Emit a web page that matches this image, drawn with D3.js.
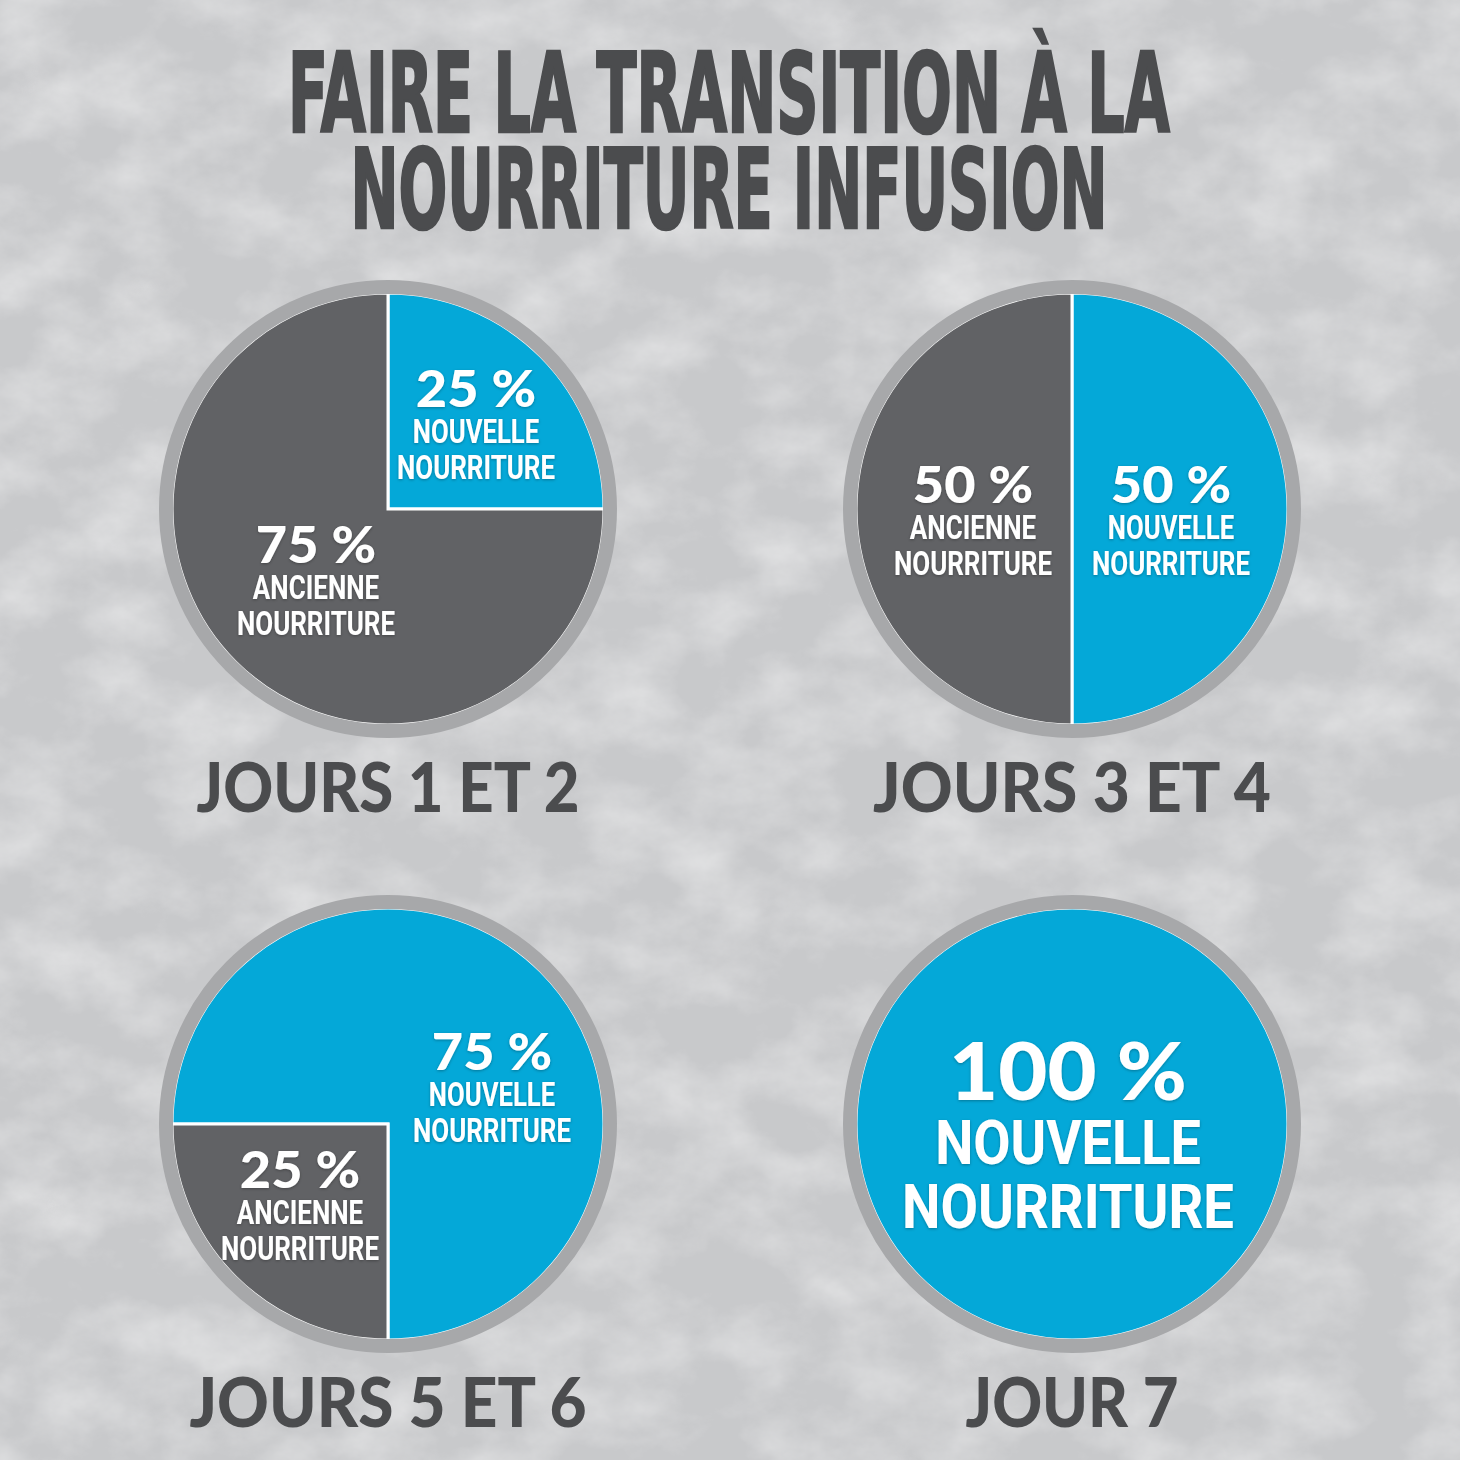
<!DOCTYPE html>
<html>
<head>
<meta charset="utf-8">
<script src="https://cdn.jsdelivr.net/npm/d3@7"></script>
<style>
  html, body { margin: 0; padding: 0; background: #c8c9cb; }
  #main svg { display: block; }
</style>
</head>
<body>
<div id="main"></div>
<script>
// ---- data ----
const titleLines = ["FAIRE LA TRANSITION À LA", "NOURRITURE INFUSION"];
const stages = ["JOURS 1 ET 2", "JOURS 3 ET 4", "JOURS 5 ET 6", "JOUR 7"];
const newShare = [25, 50, 75, 100];
const oldShare = [75, 50, 25, 0];
const newWords = ["NOUVELLE", "NOURRITURE"];
const oldWords = ["ANCIENNE", "NOURRITURE"];

// ---- layout ----
const ctx = { w: 1460, h: 1460, rPie: 216, rRing: 222, ringW: 14 };
const colors = { bg: "#c8c9cb", ring: "#a7a8aa", old: "#616265", neu: "#04a8d8", ink: "#4b4c4e" };

// one panel per stage: centre, start angle, label anchors (relative to centre)
const panels = [
    { cx: 388,  cy: 509,  start: 0,            neu: { dx: 88,  dy: -102 }, old: { dx: -72, dy: 54 } },
    { cx: 1072, cy: 509,  start: 0,            neu: { dx: 99,  dy: -6 },   old: { dx: -99, dy: -6 } },
    { cx: 388,  cy: 1124, start: -Math.PI / 2, neu: { dx: 104, dy: -54 },  old: { dx: -88, dy: 64 } },
    { cx: 1072, cy: 1124, start: 0,            neu: { dx: -4,  dy: -24, big: true }, old: null }
];
const stageWidths = [383, 398, 397, 213];

const svg = d3.select("#main").append("svg")
    .attr("width", ctx.w)
    .attr("height", ctx.h);

const defs = svg.append("defs");

// marble-ish texture: soft light veins over a flat grey
const tex = defs.append("filter").attr("id", "marble")
    .attr("x", 0).attr("y", 0).attr("width", "100%").attr("height", "100%");
tex.append("feTurbulence")
    .attr("type", "fractalNoise")
    .attr("baseFrequency", "0.012 0.016")
    .attr("numOctaves", 6)
    .attr("seed", 11)
    .attr("result", "noise");
tex.append("feColorMatrix")
    .attr("in", "noise")
    .attr("type", "matrix")
    .attr("values", "0 0 0 0 1  0 0 0 0 1  0 0 0 0 1  0.8 0 0 0 -0.3");

const shadow = defs.append("filter").attr("id", "txtShadow")
    .attr("x", "-20%").attr("y", "-30%").attr("width", "140%").attr("height", "160%");
shadow.append("feDropShadow")
    .attr("dx", 0).attr("dy", 1)
    .attr("stdDeviation", 1.6)
    .attr("flood-color", "#000")
    .attr("flood-opacity", 0.3);

svg.append("rect").attr("width", ctx.w).attr("height", ctx.h).attr("fill", colors.bg);
svg.append("rect").attr("width", ctx.w).attr("height", ctx.h).attr("filter", "url(#marble)");

// title
const titleBase = [132, 228];
const titleWidth = [882, 757];
svg.append("g").selectAll("text")
    .data(titleLines)
    .enter().append("text")
    .attr("x", 729)
    .attr("y", (d, i) => titleBase[i])
    .attr("text-anchor", "middle")
    .attr("textLength", (d, i) => titleWidth[i])
    .attr("lengthAdjust", "spacingAndGlyphs")
    .style("font-family", "'Liberation Sans Narrow', 'DejaVu Sans Condensed', sans-serif")
    .style("font-weight", "bold")
    .style("font-size", "110px")
    .attr("fill", colors.ink)
    .attr("stroke", colors.ink)
    .attr("stroke-width", 2.5)
    .text(d => d);

const arc = d3.arc().innerRadius(0).outerRadius(ctx.rPie);

function drawLabel(g, anchor, pct, words) {
    const big = !!anchor.big;
    const lg = g.append("g")
        .attr("transform", `translate(${anchor.dx},${anchor.dy})`)
        .attr("filter", "url(#txtShadow)")
        .attr("fill", "#fff");

    lg.append("text")
        .attr("text-anchor", "middle")
        .attr("transform", "scale(1.06,1)")
        .style("font-family", "Lato, 'Open Sans', sans-serif")
        .style("font-weight", 900)
        .style("font-size", big ? "80px" : "51px")
        .text(pct + " %");

    const step = big ? 64 : 36;
    const perChar = big ? 33.2 : 15.8;
    words.forEach((w, i) => {
        lg.append("text")
            .attr("x", 0)
            .attr("y", step * (i + 1))
            .attr("text-anchor", "middle")
            .attr("textLength", w.length * perChar)
            .attr("lengthAdjust", "spacingAndGlyphs")
            .style("font-family", "Roboto, 'DejaVu Sans Condensed', sans-serif")
            .style("font-weight", "bold")
            .style("font-size", big ? "62px" : "34px")
            .text(w);
    });
}

panels.forEach((p, i) => {
    const g = svg.append("g").attr("transform", `translate(${p.cx},${p.cy})`);

    const pie = d3.pie()
        .sort(null)
        .value(d => d.v)
        .startAngle(p.start)
        .endAngle(p.start + 2 * Math.PI);

    const slices = pie([
        { key: "neu", v: newShare[i] },
        { key: "old", v: oldShare[i] }
    ]).filter(d => d.data.v > 0);

    g.selectAll("path.slice")
        .data(slices)
        .enter().append("path")
        .attr("class", "slice")
        .attr("d", arc)
        .attr("fill", d => d.data.key === "neu" ? colors.neu : colors.old)
        .attr("stroke", "#fff")
        .attr("stroke-width", 3)
        .attr("stroke-linejoin", "miter");

    // grey rim on top (hides the white outer stroke)
    g.append("circle")
        .attr("r", ctx.rRing)
        .attr("fill", "none")
        .attr("stroke", colors.ring)
        .attr("stroke-width", ctx.ringW);

    if (p.neu) drawLabel(g, p.neu, newShare[i], newWords);
    if (p.old && oldShare[i] > 0) drawLabel(g, p.old, oldShare[i], oldWords);

    g.append("text")
        .attr("x", 0)
        .attr("y", 303)
        .attr("text-anchor", "middle")
        .attr("textLength", stageWidths[i])
        .attr("lengthAdjust", "spacingAndGlyphs")
        .style("font-family", "Lato, 'Open Sans', sans-serif")
        .style("font-weight", 900)
        .style("font-size", "68px")
        .attr("fill", colors.ink)
        .text(stages[i]);
});
</script>
</body>
</html>
